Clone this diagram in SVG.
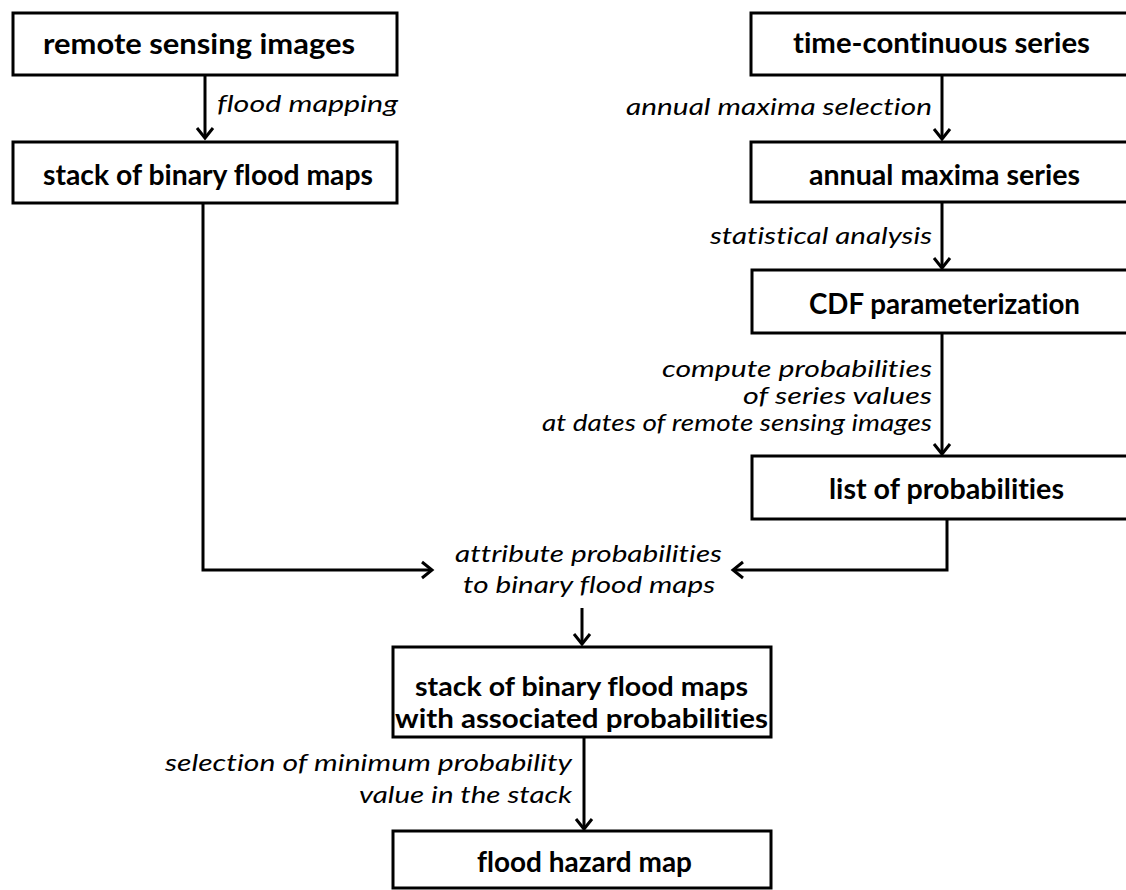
<svg xmlns="http://www.w3.org/2000/svg" width="1126" height="890" viewBox="0 0 1126 890">
<style>
text{font-variant-ligatures:none}
.box{fill:#fff;stroke:#000;stroke-width:3}
.b{font-family:Lato,"Open Sans",sans-serif;font-weight:bold;font-size:29px;fill:#000}
.b2{font-size:27px}
.i{font-family:Lato,"Open Sans",sans-serif;font-style:italic;font-size:24px;fill:#000}
.s{font-size:23px}
.c{fill:none;stroke:#000;stroke-width:3}
</style>
<defs>
<marker id="ah" markerUnits="userSpaceOnUse" markerWidth="24" markerHeight="24" refX="0" refY="0" viewBox="-14 -12 18 24" orient="auto">
<path d="M-10,-8 L0,0 L-10,8" fill="none" stroke="#000" stroke-width="3"/>
</marker>
</defs>
<rect width="1126" height="890" fill="#fff"/>
<g id="connectors">
<path class="c" d="M205,75 V138" marker-end="url(#ah)"/>
<path class="c" d="M942,75 V139" marker-end="url(#ah)"/>
<path class="c" d="M942,202 V268" marker-end="url(#ah)"/>
<path class="c" d="M942,333 V454" marker-end="url(#ah)"/>
<path class="c" d="M203,203 V570 H432" marker-end="url(#ah)"/>
<path class="c" d="M947,519 V570 H733" marker-end="url(#ah)"/>
<path class="c" d="M582,608 V644" marker-end="url(#ah)"/>
<path class="c" d="M584,737 V829" marker-end="url(#ah)"/>
</g>
<g id="node-remote">
<rect class="box" x="13" y="13" width="384" height="62"/>
<text class="b" x="43" y="54" textLength="312" lengthAdjust="spacingAndGlyphs">remote sensing images</text>
</g>
<g id="node-stack">
<rect class="box" x="13" y="142" width="384" height="61"/>
<text class="b" x="43" y="185" textLength="330" lengthAdjust="spacingAndGlyphs">stack of binary flood maps</text>
</g>
<g id="node-timeseries">
<rect class="box" x="751" y="13" width="392" height="62"/>
<text class="b" x="793" y="53" textLength="297" lengthAdjust="spacingAndGlyphs">time-continuous series</text>
</g>
<g id="node-annual">
<rect class="box" x="751" y="142" width="392" height="60"/>
<text class="b" x="809" y="185" textLength="271" lengthAdjust="spacingAndGlyphs">annual maxima series</text>
</g>
<g id="node-cdf">
<rect class="box" x="752" y="270" width="392" height="63"/>
<text class="b" x="809" y="314" textLength="271" lengthAdjust="spacingAndGlyphs">CDF parameterization</text>
</g>
<g id="node-list">
<rect class="box" x="752" y="456" width="392" height="63"/>
<text class="b" x="829" y="499" textLength="235" lengthAdjust="spacingAndGlyphs">list of probabilities</text>
</g>
<g id="node-stackprob">
<rect class="box" x="393" y="647" width="378" height="90"/>
<text class="b b2" x="415" y="696" textLength="333" lengthAdjust="spacingAndGlyphs">stack of binary flood maps</text>
<text class="b b2" x="395" y="728" textLength="373" lengthAdjust="spacingAndGlyphs">with associated probabilities</text>
</g>
<g id="node-hazard">
<rect class="box" x="393" y="831" width="378" height="57"/>
<text class="b" x="477" y="872" textLength="215" lengthAdjust="spacingAndGlyphs">flood hazard map</text>
</g>
<g id="labels">
<text class="i" x="217" y="112" textLength="181" lengthAdjust="spacingAndGlyphs">flood mapping</text>
<text class="i" x="626" y="115" textLength="306" lengthAdjust="spacingAndGlyphs">annual maxima selection</text>
<text class="i" x="710" y="244" textLength="222" lengthAdjust="spacingAndGlyphs">statistical analysis</text>
<text class="i s" x="662" y="377" textLength="270" lengthAdjust="spacingAndGlyphs">compute probabilities</text>
<text class="i s" x="743" y="404" textLength="189" lengthAdjust="spacingAndGlyphs">of series values</text>
<text class="i s" x="542" y="431" textLength="390" lengthAdjust="spacingAndGlyphs">at dates of remote sensing images</text>
<text class="i" x="455" y="562" textLength="267" lengthAdjust="spacingAndGlyphs">attribute probabilities</text>
<text class="i" x="463" y="593" textLength="252" lengthAdjust="spacingAndGlyphs">to binary flood maps</text>
<text class="i" x="165" y="771" textLength="407" lengthAdjust="spacingAndGlyphs">selection of minimum probability</text>
<text class="i" x="359" y="803" textLength="213" lengthAdjust="spacingAndGlyphs">value in the stack</text>
</g>
</svg>
